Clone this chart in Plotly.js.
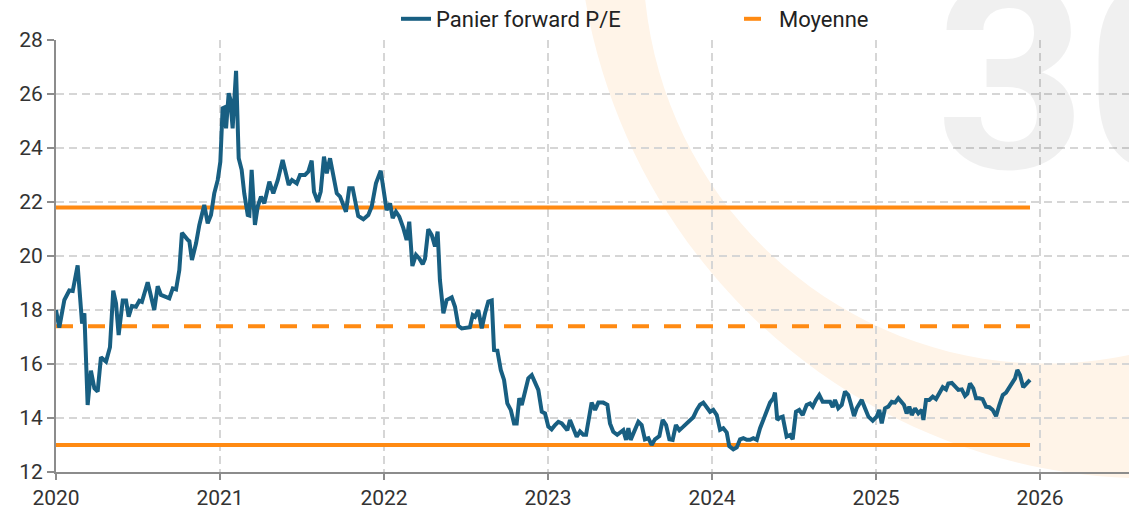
<!DOCTYPE html>
<html>
<head>
<meta charset="utf-8">
<script src="https://cdn.plot.ly/plotly-3.0.1.min.js"></script>
<style>html,body{margin:0;padding:0;background:#fff;}#chart{width:1129px;height:509px;}</style>
</head>
<body>
<div id="chart"></div>
<script>
// Dates as fractional years
const dates = [
2020.000,2020.020,2020.051,2020.081,2020.102,2020.132,2020.159,2020.173,2020.193,2020.213,
2020.234,2020.254,2020.274,2020.305,2020.329,2020.349,2020.366,2020.382,2020.407,2020.427,
2020.443,2020.463,2020.488,2020.508,2020.524,2020.559,2020.599,2020.620,2020.640,2020.691,
2020.712,2020.732,2020.752,2020.768,2020.803,2020.813,2020.829,2020.854,2020.874,2020.904,
2020.925,2020.945,2020.965,2020.986,2021.002,2021.016,2021.026,2021.037,2021.053,2021.063,
2021.077,2021.098,2021.114,2021.132,2021.148,2021.169,2021.179,2021.193,2021.213,2021.230,
2021.250,2021.270,2021.301,2021.325,2021.352,2021.382,2021.419,2021.439,2021.468,2021.488,
2021.518,2021.538,2021.559,2021.573,2021.596,2021.614,2021.634,2021.651,2021.671,2021.691,
2021.712,2021.732,2021.752,2021.768,2021.788,2021.809,2021.829,2021.843,2021.874,2021.904,
2021.925,2021.951,2021.980,2022.000,2022.016,2022.037,2022.053,2022.073,2022.093,2022.118,
2022.138,2022.154,2022.173,2022.195,2022.215,2022.236,2022.250,2022.270,2022.291,2022.311,
2022.327,2022.341,2022.362,2022.382,2022.413,2022.433,2022.453,2022.474,2022.504,2022.524,
2022.541,2022.555,2022.575,2022.596,2022.616,2022.636,2022.657,2022.671,2022.691,2022.712,
2022.732,2022.752,2022.773,2022.793,2022.809,2022.825,2022.840,2022.860,2022.880,2022.901,
2022.921,2022.941,2022.962,2022.982,2023.002,2023.022,2023.043,2023.063,2023.084,2023.104,
2023.118,2023.134,2023.154,2023.175,2023.195,2023.215,2023.232,2023.252,2023.266,2023.287,
2023.307,2023.337,2023.362,2023.378,2023.398,2023.422,2023.439,2023.459,2023.476,2023.490,
2023.504,2023.524,2023.551,2023.571,2023.591,2023.612,2023.632,2023.652,2023.679,2023.699,
2023.720,2023.740,2023.760,2023.780,2023.801,2023.825,2023.846,2023.866,2023.886,2023.907,
2023.927,2023.947,2023.968,2023.988,2024.008,2024.029,2024.049,2024.069,2024.090,2024.105,
2024.130,2024.151,2024.171,2024.191,2024.212,2024.232,2024.252,2024.273,2024.293,2024.313,
2024.333,2024.354,2024.374,2024.384,2024.398,2024.415,2024.431,2024.455,2024.476,2024.492,
2024.512,2024.532,2024.553,2024.577,2024.598,2024.614,2024.634,2024.654,2024.675,2024.699,
2024.720,2024.736,2024.750,2024.770,2024.791,2024.811,2024.831,2024.846,2024.866,2024.882,
2024.913,2024.933,2024.954,2024.980,2025.004,2025.020,2025.035,2025.055,2025.075,2025.096,
2025.116,2025.136,2025.157,2025.171,2025.187,2025.203,2025.218,2025.238,2025.258,2025.279,
2025.289,2025.305,2025.325,2025.346,2025.366,2025.386,2025.407,2025.427,2025.441,2025.462,
2025.482,2025.502,2025.523,2025.543,2025.557,2025.573,2025.593,2025.610,2025.630,2025.650,
2025.671,2025.691,2025.711,2025.732,2025.752,2025.773,2025.793,2025.813,2025.834,2025.848,
2025.862,2025.878,2025.898,2025.919,2025.939
];
const panierPE = [
18.0,17.35,18.37,18.72,18.7,19.65,17.5,17.88,14.48,15.75,
15.1,14.98,16.25,16.09,16.62,18.72,18.25,17.07,18.35,18.35,
17.75,18.15,18.12,18.34,18.3,19.03,18.0,18.88,18.56,18.43,
18.8,18.76,19.48,20.86,20.6,20.55,19.85,20.47,21.15,21.89,
21.21,21.52,22.32,22.81,23.49,25.47,25.5,24.73,26.03,25.8,
24.73,26.86,23.62,23.19,22.32,21.52,21.5,23.19,21.15,21.83,
22.2,21.95,22.75,22.32,22.81,23.56,22.63,22.81,22.69,23.0,
23.0,23.12,23.53,22.38,22.01,22.38,23.68,23.06,23.62,22.94,
22.32,22.2,21.83,21.64,22.51,22.51,21.89,21.48,21.36,21.52,
21.83,22.69,23.16,22.32,21.7,21.95,21.4,21.64,21.46,21.03,
20.59,21.27,19.63,20.04,19.91,19.7,19.9,20.99,20.78,20.35,
20.9,19.11,17.88,18.37,18.47,18.12,17.41,17.32,17.36,17.36,
17.81,17.75,18.0,17.32,17.88,18.31,18.35,16.52,16.5,15.78,
15.41,14.54,14.3,13.8,13.8,14.73,14.48,14.91,15.47,15.59,
15.34,15.04,14.23,14.17,13.68,13.58,13.74,13.86,13.8,13.62,
13.55,13.93,13.62,13.31,13.5,13.38,13.38,14.17,14.57,14.3,
14.57,14.57,14.49,13.8,13.49,13.38,13.44,13.55,13.19,13.62,
13.19,13.5,13.86,13.74,13.21,13.25,13.0,13.21,13.33,13.93,
13.74,13.21,13.19,13.74,13.55,13.68,13.8,13.95,14.03,14.3,
14.49,14.57,14.42,14.23,14.3,14.11,13.56,13.62,13.46,12.96,
12.84,12.91,13.21,13.25,13.19,13.19,13.25,13.19,13.62,13.95,
14.32,14.57,14.73,14.94,13.93,14.02,14.05,13.31,13.37,13.21,
14.23,14.3,14.11,14.48,14.54,14.42,14.67,14.85,14.6,14.6,
14.6,14.4,14.67,14.36,14.48,14.98,14.85,14.54,14.07,14.36,
14.67,14.36,14.05,13.9,14.05,14.3,13.8,14.36,14.42,14.6,
14.57,14.73,14.6,14.48,14.17,14.42,14.11,14.36,14.17,14.3,
13.93,14.67,14.67,14.79,14.7,14.94,15.14,15.06,15.28,15.3,
15.16,15.04,15.06,14.82,14.9,15.28,15.1,14.73,14.73,14.7,
14.42,14.4,14.3,14.07,14.48,14.85,14.94,15.16,15.35,15.47,
15.78,15.59,15.14,15.3,15.41
];
const moyenne = 17.4;
const bandeHaute = 21.8;
const bandeBasse = 13.0;
const xTicks = [2020, 2021, 2022, 2023, 2024, 2025, 2026];
const yTicks = [12, 14, 16, 18, 20, 22, 24, 26, 28];

const blue = '#185f82';
const orange = '#ff8a12';
const x0 = dates[0], x1 = dates[dates.length - 1];

const traces = [
  {x: dates, y: panierPE, type: 'scatter', mode: 'lines', name: 'Panier forward P/E',
   line: {color: blue, width: 4}},
  {x: [x0, x1], y: [moyenne, moyenne], type: 'scatter', mode: 'lines', name: 'Moyenne',
   line: {color: orange, width: 4, dash: '17px,15px'}},
  {x: [x0, x1], y: [bandeHaute, bandeHaute], type: 'scatter', mode: 'lines', showlegend: false,
   line: {color: orange, width: 4}},
  {x: [x0, x1], y: [bandeBasse, bandeBasse], type: 'scatter', mode: 'lines', showlegend: false,
   line: {color: orange, width: 4}}
];
const plotTraces = [traces[2], traces[3], traces[1], traces[0]];

const W = 1129, H = 509, ml = 56, mr = 0, mt = 40, mb = 37;
const pw = W - ml - mr, ph = H - mt - mb;
const px = v => (v - ml) / pw;
const py = v => (H - mb - v) / ph;

const layout = {
  width: W, height: H,
  margin: {l: ml, r: mr, t: mt, b: mb, pad: 0, autoexpand: false},
  paper_bgcolor: '#ffffff', plot_bgcolor: 'rgba(0,0,0,0)',
  font: {family: 'Roboto, sans-serif', size: 21, color: '#333333'},
  showlegend: true,
  legend: {orientation: 'h', x: px(396), xanchor: 'left', y: py(19), yanchor: 'middle',
    font: {size: 22, color: '#222'}, traceorder: 'reversed', entrywidth: 298, entrywidthmode: 'pixels',
    bgcolor: 'rgba(0,0,0,0)'},
  xaxis: {range: [2020, 2020 + pw / 164], tickvals: xTicks, ticktext: xTicks.map(String),
    showgrid: true, gridcolor: '#d6d6d6', griddash: '8px,5px', gridwidth: 1.5,
    showline: true, linecolor: '#8c8c8c', linewidth: 2, zeroline: false,
    ticks: 'outside', ticklen: 6, tickcolor: '#8c8c8c', tickwidth: 2,
    tickfont: {size: 21, color: '#333'}},
  yaxis: {range: [12, 28], tickvals: yTicks,
    showgrid: true, gridcolor: '#d6d6d6', griddash: '8px,5px', gridwidth: 1.5,
    showline: true, linecolor: '#8c8c8c', linewidth: 2, zeroline: false,
    ticks: 'outside', ticklen: 7, tickcolor: '#8c8c8c', tickwidth: 2,
    tickfont: {size: 21, color: '#333'}},
  shapes: [
    {type: 'path', xref: 'paper', yref: 'paper', layer: 'below', line: {width: 0},
     fillcolor: '#fff4e8',
     path: `M${px(585)},${py(-2)} C${px(631)},${py(268)} ${px(857)},${py(467)} ${px(1129)},${py(478)} L${px(1129)},${py(355)} C${px(894)},${py(404)} ${px(669)},${py(238.5)} ${px(645)},${py(-2)} Z`}
  ],
  annotations: [
    {xref: 'paper', yref: 'paper', x: px(934), y: py(234), xanchor: 'left', yanchor: 'bottom',
     text: '<b>30</b>', showarrow: false,
     font: {family: 'Roboto, sans-serif', size: 262, color: 'rgba(0,0,0,0.06)'}}
  ]
};

Plotly.newPlot('chart', plotTraces, layout, {displayModeBar: false, staticPlot: true});
</script>
</body>
</html>
